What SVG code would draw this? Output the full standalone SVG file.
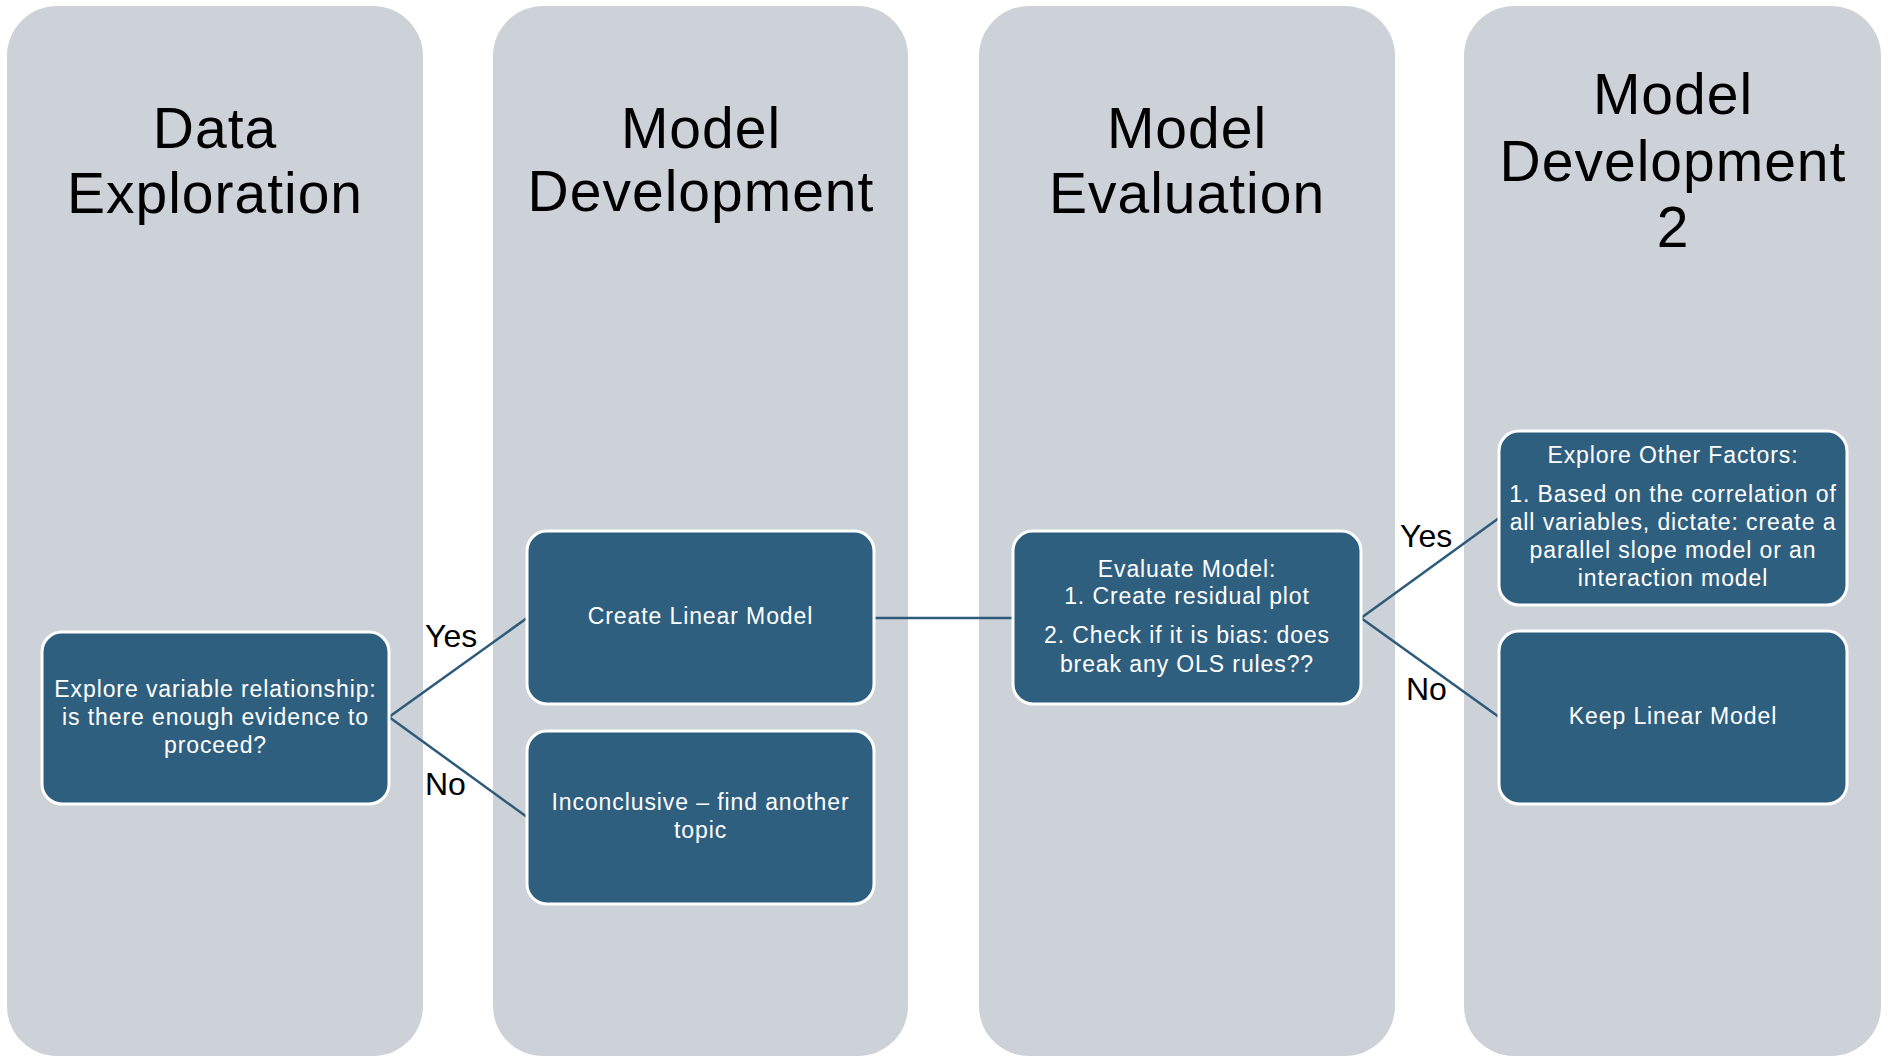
<svg xmlns="http://www.w3.org/2000/svg" width="1888" height="1058" viewBox="0 0 1888 1058">
<style>
.lane{fill:#CCD2D7}
.title{font-family:"Liberation Sans",Arial,sans-serif;font-size:57px;letter-spacing:1px;fill:#000;text-anchor:middle}
.node{fill:#2F5F7F;stroke:#FFFFFF;stroke-width:3}
.nt{font-family:"Liberation Sans",Arial,sans-serif;font-size:23px;letter-spacing:0.9px;fill:#FFFFFF;text-anchor:middle}
.conn{stroke:#2E5B7A;stroke-width:2.5;fill:none}
.lbl{font-family:"Liberation Sans",Arial,sans-serif;font-size:32px;fill:#000}
</style>
<rect width="1888" height="1058" fill="#FFFFFF"/>
<g id="lanes">
<g id="lane1"><rect class="lane" x="7" y="6" width="416" height="1050" rx="50"/>
<text class="title" x="215" y="148">Data</text><text class="title" x="215" y="213">Exploration</text></g>
<g id="lane2"><rect class="lane" x="493" y="6" width="415" height="1050" rx="50"/>
<text class="title" x="701" y="148">Model</text><text class="title" x="701" y="211">Development</text></g>
<g id="lane3"><rect class="lane" x="979" y="6" width="416" height="1050" rx="50"/>
<text class="title" x="1187" y="148">Model</text><text class="title" x="1187" y="213">Evaluation</text></g>
<g id="lane4"><rect class="lane" x="1464" y="6" width="417" height="1050" rx="50"/>
<text class="title" x="1673" y="114">Model</text><text class="title" x="1673" y="181">Development</text><text class="title" x="1673" y="247">2</text></g>
</g>
<g id="connectors">
<line class="conn" x1="389" y1="717" x2="527" y2="618"/>
<line class="conn" x1="389" y1="717" x2="527" y2="817"/>
<line class="conn" x1="874" y1="618" x2="1013" y2="618"/>
<line class="conn" x1="1361" y1="618" x2="1499" y2="518"/>
<line class="conn" x1="1361" y1="618" x2="1499" y2="717"/>
<text class="lbl" x="425" y="647">Yes</text>
<text class="lbl" x="425" y="795">No</text>
<text class="lbl" x="1400" y="547">Yes</text>
<text class="lbl" x="1406" y="700">No</text>
</g>
<g id="n-explore"><rect class="node" x="42" y="632" width="347" height="172" rx="20"/>
<text class="nt" x="215.5" y="697">Explore variable relationship:</text>
<text class="nt" x="215.5" y="725">is there enough evidence to</text>
<text class="nt" x="215.5" y="753">proceed?</text></g>
<g id="n-create"><rect class="node" x="527" y="531" width="347" height="173" rx="20"/>
<text class="nt" x="700.5" y="624">Create Linear Model</text></g>
<g id="n-inconclusive"><rect class="node" x="527" y="731" width="347" height="173" rx="20"/>
<text class="nt" x="700.5" y="810">Inconclusive – find another</text>
<text class="nt" x="700.5" y="838">topic</text></g>
<g id="n-evaluate"><rect class="node" x="1013" y="531" width="348" height="173" rx="20"/>
<text class="nt" x="1187" y="577">Evaluate Model:</text>
<text class="nt" x="1187" y="604">1. Create residual plot</text>
<text class="nt" x="1187" y="643">2. Check if it is bias: does</text>
<text class="nt" x="1187" y="672">break any OLS rules??</text></g>
<g id="n-other"><rect class="node" x="1499" y="431" width="348" height="174" rx="20"/>
<text class="nt" x="1673" y="463">Explore Other Factors:</text>
<text class="nt" x="1673" y="502">1. Based on the correlation of</text>
<text class="nt" x="1673" y="530">all variables, dictate: create a</text>
<text class="nt" x="1673" y="558">parallel slope model or an</text>
<text class="nt" x="1673" y="586">interaction model</text></g>
<g id="n-keep"><rect class="node" x="1499" y="631" width="348" height="173" rx="20"/>
<text class="nt" x="1673" y="724">Keep Linear Model</text></g>
</svg>
